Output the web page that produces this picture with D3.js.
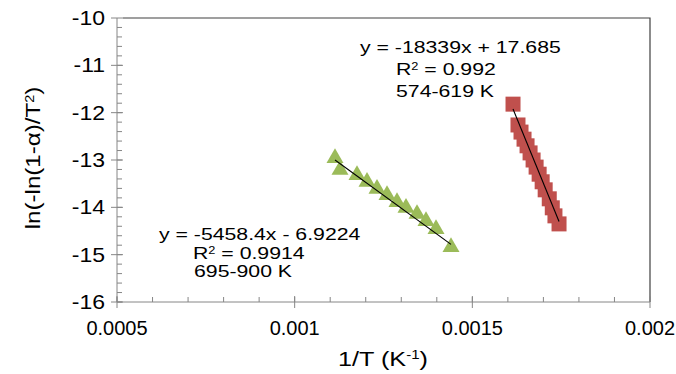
<!DOCTYPE html>
<html>
<head>
<meta charset="utf-8">
<script src="https://cdn.jsdelivr.net/npm/d3@7"></script>
<style>
  body { margin: 0; background: #fff; }
  text { font-family: "Liberation Sans", Arial, sans-serif; fill: #000; }
</style>
</head>
<body>
<div id="chart"></div>
<script>
// tick values
const xTicks = [0.0005, 0.001, 0.0015, 0.002];
const yTicks = [-10, -11, -12, -13, -14, -15, -16];

// 574-619 K series (squares)
const redX = [0.0016145, 0.0016285, 0.001637, 0.0016455, 0.001654, 0.0016625, 0.001671, 0.0016795,
              0.001688, 0.0016965, 0.001705, 0.0017165, 0.001725, 0.0017325, 0.001744];
const redY = [-11.82, -12.26, -12.41, -12.56, -12.70, -12.85, -13.00, -13.15,
              -13.30, -13.46, -13.63, -13.82, -14.01, -14.18, -14.35];

// 695-900 K series (triangles)
const greenX = [0.0011135, 0.0011276, 0.0011754, 0.0012036, 0.0012317, 0.0012599,
                0.001288, 0.0013133, 0.0013443, 0.0013696, 0.0013978, 0.00144];
const greenY = [-12.96, -13.21, -13.32, -13.46, -13.61, -13.74,
                -13.89, -14.01, -14.14, -14.29, -14.46, -14.84];

// linear trendlines
const redFit = { slope: -18339, intercept: 17.685 };
const greenFit = { slope: -5458.4, intercept: -6.9224 };

const W = 676, H = 374;
const mLeft = 117, mRight = 650, mTop = 18, mBottom = 302;

const svg = d3.select("#chart").append("svg")
    .attr("width", W).attr("height", H);

const x = d3.scaleLinear().domain([0.0005, 0.002]).range([mLeft, mRight]);
const y = d3.scaleLinear().domain([-16, -10]).range([mBottom, mTop]);

// plot frame (top and right)
svg.append("path")
    .attr("d", `M${mLeft + 6},${mTop}H${mRight}V${mBottom}`)
    .attr("fill", "none").attr("stroke", "#404040").attr("stroke-width", 1.2);

// y axis: line, minor and major ticks
const yMinor = d3.range(-16, -10.001, 0.2);
svg.append("g").selectAll("line").data(yMinor).enter().append("line")
    .attr("x1", mLeft).attr("x2", mLeft + 5)
    .attr("y1", d => y(d)).attr("y2", d => y(d))
    .attr("stroke", "#868686");
svg.append("g").selectAll("line").data(yTicks).enter().append("line")
    .attr("x1", mLeft - 6).attr("x2", mLeft + 6)
    .attr("y1", d => y(d)).attr("y2", d => y(d))
    .attr("stroke", "#868686");
svg.append("line")
    .attr("x1", mLeft).attr("x2", mLeft).attr("y1", mTop).attr("y2", mBottom)
    .attr("stroke", "#868686");

// x axis
const xMinor = d3.range(0.0005, 0.00200001, 0.0001);
svg.append("g").selectAll("line").data(xMinor).enter().append("line")
    .attr("x1", d => x(d)).attr("x2", d => x(d))
    .attr("y1", mBottom).attr("y2", mBottom - 5)
    .attr("stroke", "#868686");
svg.append("g").selectAll("line").data(xTicks).enter().append("line")
    .attr("x1", d => x(d)).attr("x2", d => x(d))
    .attr("y1", mBottom - 6).attr("y2", mBottom + 6)
    .attr("stroke", "#868686");
svg.append("line")
    .attr("x1", mLeft).attr("x2", mRight).attr("y1", mBottom).attr("y2", mBottom)
    .attr("stroke", "#868686");

// helper for horizontally stretched text
function label(px, py, anchor, parts, fs, sx, rotate) {
    const t = svg.append("text")
        .attr("transform", `translate(${px},${py})` + (rotate ? " rotate(-90)" : "") + ` scale(${sx},1)`)
        .attr("text-anchor", anchor)
        .attr("font-size", fs);
    parts.forEach(p => {
        const s = t.append("tspan").text(p.t);
        if (p.sup) s.attr("font-size", fs * 0.6).attr("baseline-shift", "super");
    });
    return t;
}

// tick labels
yTicks.forEach(v => label(mLeft - 12, y(v) + 7, "end", [{ t: String(v) }], 20, 1.15));
xTicks.forEach(v => label(x(v), mBottom + 33, "middle", [{ t: String(v) }], 20, 1.0));

// axis titles
label(383, 366, "middle", [{ t: "1/T (K" }, { t: "-1", sup: true }, { t: ")" }], 21, 1.2);
label(40, 158, "middle", [{ t: "ln(-ln(1-α)/T" }, { t: "2", sup: true }, { t: ")" }], 21, 1.15, true);

// trendlines
function fitLine(xs, fit) {
    const ext = d3.extent(xs);
    svg.append("line")
        .attr("x1", x(ext[0])).attr("y1", y(fit.slope * ext[0] + fit.intercept))
        .attr("x2", x(ext[1])).attr("y2", y(fit.slope * ext[1] + fit.intercept))
        .attr("stroke", "#000").attr("stroke-width", 1.1);
}

// markers
svg.append("g").selectAll("path").data(redX).enter().append("path")
    .attr("d", d3.symbol(d3.symbolSquare, 225))
    .attr("transform", (d, i) => `translate(${x(d)},${y(redY[i])})`)
    .attr("fill", "#C0504D");
svg.append("g").selectAll("path").data(greenX).enter().append("path")
    .attr("d", d3.symbol(d3.symbolTriangle, 125))
    .attr("transform", (d, i) => `translate(${x(d)},${y(greenY[i])})`)
    .attr("fill", "#9BBB59");

fitLine(redX, redFit);
fitLine(greenX, greenFit);

// trendline annotations
const AF = 17, AS = 1.25;
label(360, 53, "start", [{ t: "y = -18339x + 17.685" }], AF, AS);
label(396, 75, "start", [{ t: "R" }, { t: "2", sup: true }, { t: " = 0.992" }], AF, AS);
label(396, 97, "start", [{ t: "574-619 K" }], AF, AS);

label(159, 240, "start", [{ t: "y = -5458.4x - 6.9224" }], AF, AS);
label(193, 259, "start", [{ t: "R" }, { t: "2", sup: true }, { t: " = 0.9914" }], AF, AS);
label(194, 277, "start", [{ t: "695-900 K" }], AF, AS);
</script>
</body>
</html>
